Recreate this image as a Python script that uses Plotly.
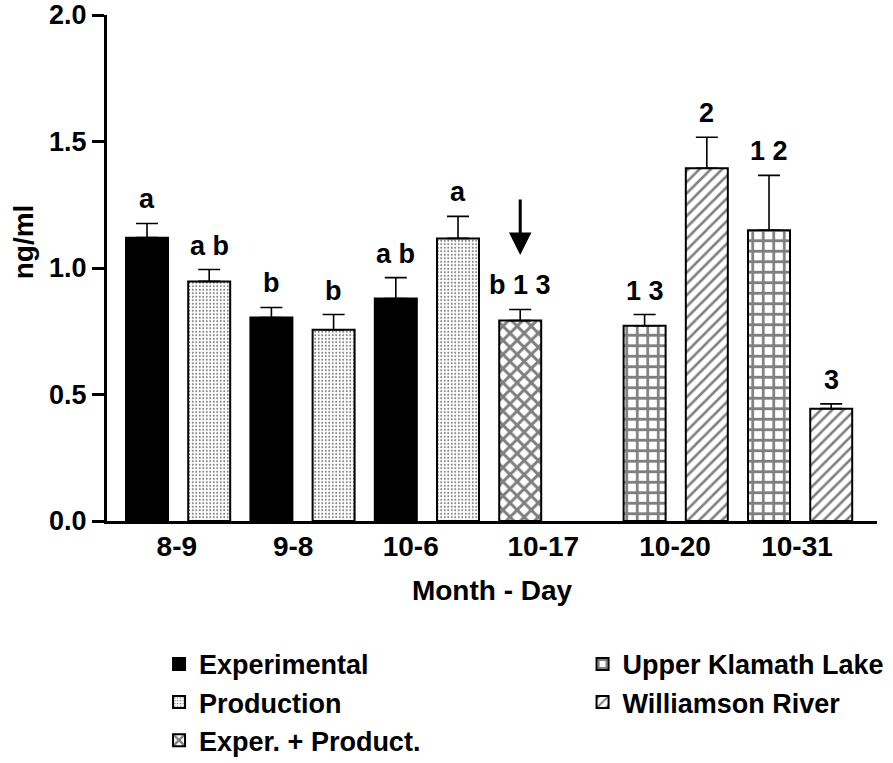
import plotly.graph_objects as go

# ---------------- data ----------------
dates = ["8-9", "8-9", "9-8", "9-8", "10-6", "10-6", "10-17",
         "10-20", "10-20", "10-31", "10-31"]
groups = ["Experimental", "Production", "Experimental", "Production",
          "Experimental", "Production", "Exper. + Product.",
          "Upper Klamath Lake", "Williamson River",
          "Upper Klamath Lake", "Williamson River"]
means = [1.120, 0.947, 0.804, 0.756, 0.879, 1.117, 0.792,
         0.772, 1.394, 1.149, 0.444]
upper = [1.176, 0.994, 0.844, 0.816, 0.962, 1.204, 0.836,
         0.816, 1.517, 1.366, 0.463]
letters = ["a", "a b", "b", "b", "a b", "a", "b 1 3",
           "1 3", "2", "1 2", "3"]
tick_labels = ["8-9", "9-8", "10-6", "10-17", "10-20", "10-31"]
arrow_tip = 1.051
arrow_tail = 1.277

# ---------------- layout constants ----------------
GAP_AFTER = "10-17"
TICK_POS = [0.48, 2.35, 4.24, 6.37, 8.49, 10.45]
BAR_W = 0.675
FONT = "Liberation Sans, Arial, Helvetica, sans-serif"

# slot positions for bars (one empty slot after GAP_AFTER)
pos = []
p = 0
for i, d in enumerate(dates):
    pos.append(p)
    p += 1
    if d == GAP_AFTER and (i + 1 < len(dates) and dates[i + 1] != d):
        p += 1

styles = {
    "Experimental": dict(fill="black", shape="", size=8, solidity=0.3, legend="legend", rank=1),
    "Production": dict(fill="white", shape=".", size=3.5, solidity=0.25, legend="legend", rank=2),
    "Exper. + Product.": dict(fill="white", shape="x", size=10, solidity=0.5, legend="legend", rank=3),
    "Upper Klamath Lake": dict(fill="white", shape="+", size=10.5, solidity=0.45, legend="legend2", rank=4),
    "Williamson River": dict(fill="white", shape="/", size=8, solidity=0.32, legend="legend2", rank=5),
}

fig = go.Figure()
order = ["Experimental", "Production", "Exper. + Product.",
         "Upper Klamath Lake", "Williamson River"]
for g in order:
    idx = [i for i, gg in enumerate(groups) if gg == g]
    st = styles[g]
    marker = dict(color=st["fill"], line=dict(color="black", width=2))
    if st["shape"]:
        marker["pattern"] = dict(shape=st["shape"], size=st["size"],
                                 solidity=st["solidity"], fgcolor="black",
                                 bgcolor="white", fillmode="overlay")
    fig.add_trace(go.Bar(
        x=[pos[i] for i in idx],
        y=[means[i] for i in idx],
        width=BAR_W,
        name=g,
        legend=st["legend"],
        legendgroup=g,
        legendrank=st["rank"],
        marker=marker,
        error_y=dict(type="data", symmetric=False,
                     array=[upper[i] - means[i] for i in idx],
                     arrayminus=[0] * len(idx),
                     color="black", thickness=1.6, width=11),
    ))

annotations = []
for i in range(len(means)):
    annotations.append(dict(
        x=pos[i], y=upper[i], xref="x", yref="y", text=letters[i],
        showarrow=False, yanchor="bottom", yshift=7,
        font=dict(family=FONT, size=27, color="black", weight="bold")))

# arrow pointing to the combined (10-17) bar
arrow_idx = dates.index("10-17")
annotations.append(dict(
    x=pos[arrow_idx], y=arrow_tip, xref="x", yref="y",
    ax=pos[arrow_idx], ay=arrow_tail, axref="x", ayref="y",
    text="", showarrow=True, arrowhead=2, arrowsize=1.5,
    arrowwidth=3, arrowcolor="black"))

# y-axis title
annotations.append(dict(
    x=-0.109, y=0.551, xref="paper", yref="paper", text="ng/ml",
    textangle=-90, showarrow=False, xanchor="center", yanchor="middle",
    font=dict(family=FONT, size=28, color="black", weight="bold")))

fig.update_layout(
    width=893, height=763,
    margin=dict(l=107, r=16, t=15, b=242, autoexpand=False),
    paper_bgcolor="white", plot_bgcolor="white",
    barmode="overlay",
    showlegend=True,
    font=dict(family=FONT, color="black"),
    annotations=annotations,
    xaxis=dict(
        range=[-0.643, 11.736],
        tickmode="array", tickvals=TICK_POS, ticktext=tick_labels,
        ticks="", showgrid=False, zeroline=False,
        showline=True, linecolor="black", linewidth=3,
        tickfont=dict(family=FONT, size=28, color="black", weight="bold"),
        ticklabelstandoff=-2,
        title=dict(text="Month - Day", standoff=20,
                   font=dict(family=FONT, size=28, color="black", weight="bold")),
    ),
    yaxis=dict(
        range=[0, 2], dtick=0.5, tickformat=".1f",
        ticks="outside", ticklen=12, tickwidth=3, tickcolor="black",
        showgrid=False, zeroline=False,
        showline=True, linecolor="black", linewidth=3,
        ticklabeloverflow="allow",
        tickfont=dict(family=FONT, size=27, color="black", weight="bold"),
    ),
    legend=dict(
        x=0.0676, y=-0.235, xanchor="left", yanchor="top",
        orientation="v", traceorder="grouped", tracegroupgap=0,
        bgcolor="rgba(0,0,0,0)",
        font=dict(family=FONT, size=27, color="black", weight="bold"),
    ),
    legend2=dict(
        x=0.6176, y=-0.235, xanchor="left", yanchor="top",
        orientation="v", traceorder="grouped", tracegroupgap=0,
        bgcolor="rgba(0,0,0,0)",
        font=dict(family=FONT, size=27, color="black", weight="bold"),
    ),
)

fig.write_html("out.html", config={"displayModeBar": False},
               post_script="document.body.style.margin='0px';")
